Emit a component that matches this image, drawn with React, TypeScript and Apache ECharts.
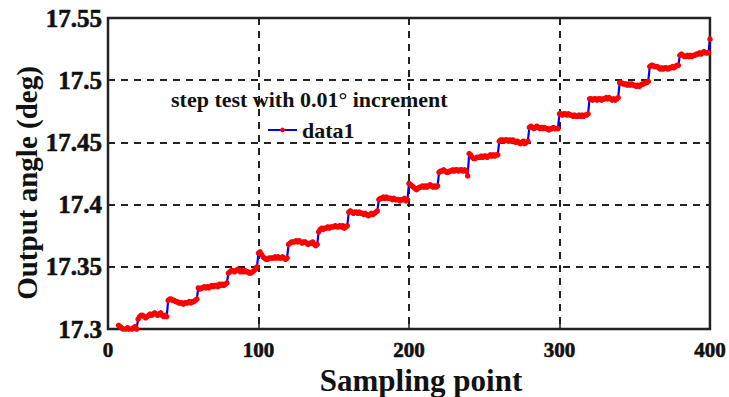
import React, { useEffect, useRef } from "react";
import * as echarts from "echarts";

// Step test: each level holds 20 samples (first level starts at sample 7)
const firstSample = 7;
const stepLength = 20;
const levels: number[][] = [
  [17.303, 17.302, 17.301, 17.3, 17.299, 17.3, 17.301, 17.3, 17.299, 17.3, 17.301, 17.302, 17.3],
  [17.308, 17.31, 17.311, 17.311, 17.31, 17.309, 17.31, 17.311, 17.312, 17.311, 17.312, 17.313, 17.312, 17.311, 17.312, 17.313, 17.311, 17.31, 17.311, 17.31],
  [17.323, 17.324, 17.324, 17.323, 17.323, 17.322, 17.322, 17.321, 17.321, 17.321, 17.32, 17.321, 17.321, 17.321, 17.322, 17.321, 17.322, 17.322, 17.323, 17.324],
  [17.333, 17.332, 17.333, 17.333, 17.334, 17.333, 17.334, 17.333, 17.334, 17.335, 17.334, 17.335, 17.335, 17.334, 17.336, 17.335, 17.336, 17.335, 17.336, 17.337],
  [17.345, 17.346, 17.347, 17.347, 17.346, 17.347, 17.348, 17.347, 17.346, 17.347, 17.346, 17.347, 17.346, 17.346, 17.345, 17.345, 17.346, 17.347, 17.348, 17.35],
  [17.361, 17.362, 17.36, 17.358, 17.357, 17.356, 17.356, 17.357, 17.357, 17.357, 17.357, 17.358, 17.357, 17.358, 17.357, 17.357, 17.358, 17.357, 17.356, 17.357],
  [17.368, 17.369, 17.37, 17.37, 17.37, 17.371, 17.37, 17.371, 17.37, 17.369, 17.37, 17.37, 17.369, 17.368, 17.369, 17.369, 17.37, 17.368, 17.367, 17.368],
  [17.378, 17.38, 17.381, 17.38, 17.381, 17.381, 17.382, 17.381, 17.382, 17.382, 17.382, 17.383, 17.382, 17.382, 17.383, 17.382, 17.383, 17.381, 17.382, 17.383],
  [17.394, 17.395, 17.394, 17.393, 17.394, 17.394, 17.393, 17.394, 17.393, 17.393, 17.392, 17.393, 17.392, 17.391, 17.392, 17.393, 17.392, 17.393, 17.394, 17.395],
  [17.404, 17.405, 17.405, 17.406, 17.405, 17.406, 17.405, 17.405, 17.405, 17.404, 17.405, 17.404, 17.404, 17.404, 17.403, 17.404, 17.404, 17.405, 17.403, 17.404],
  [17.417, 17.416, 17.415, 17.414, 17.413, 17.412, 17.413, 17.414, 17.414, 17.415, 17.414, 17.415, 17.414, 17.415, 17.416, 17.415, 17.414, 17.415, 17.414, 17.415],
  [17.426, 17.427, 17.427, 17.428, 17.427, 17.426, 17.426, 17.427, 17.427, 17.428, 17.427, 17.428, 17.428, 17.427, 17.428, 17.428, 17.427, 17.428, 17.427, 17.423],
  [17.441, 17.44, 17.438, 17.437, 17.437, 17.438, 17.438, 17.438, 17.439, 17.438, 17.439, 17.439, 17.438, 17.439, 17.44, 17.439, 17.44, 17.439, 17.44, 17.44],
  [17.451, 17.452, 17.452, 17.451, 17.452, 17.452, 17.451, 17.452, 17.451, 17.452, 17.451, 17.45, 17.451, 17.45, 17.449, 17.45, 17.451, 17.449, 17.45, 17.451],
  [17.462, 17.463, 17.462, 17.461, 17.462, 17.463, 17.462, 17.461, 17.462, 17.461, 17.462, 17.461, 17.461, 17.46, 17.461, 17.461, 17.462, 17.461, 17.461, 17.461],
  [17.473, 17.473, 17.472, 17.473, 17.473, 17.472, 17.473, 17.472, 17.472, 17.471, 17.472, 17.471, 17.471, 17.472, 17.471, 17.472, 17.471, 17.472, 17.472, 17.473],
  [17.485, 17.485, 17.484, 17.485, 17.485, 17.484, 17.485, 17.485, 17.484, 17.485, 17.485, 17.486, 17.485, 17.486, 17.485, 17.484, 17.485, 17.484, 17.485, 17.486],
  [17.498, 17.498, 17.497, 17.497, 17.497, 17.496, 17.497, 17.496, 17.497, 17.496, 17.496, 17.495, 17.496, 17.495, 17.496, 17.497, 17.497, 17.498, 17.498, 17.499],
  [17.511, 17.512, 17.512, 17.511, 17.511, 17.511, 17.51, 17.509, 17.51, 17.509, 17.51, 17.51, 17.509, 17.51, 17.51, 17.511, 17.51, 17.511, 17.512, 17.512],
  [17.52, 17.521, 17.52, 17.519, 17.519, 17.52, 17.519, 17.52, 17.519, 17.52, 17.52, 17.521, 17.521, 17.522, 17.521, 17.522, 17.523, 17.522, 17.522, 17.522],
  [17.533],
];

const xTicks = [0, 100, 200, 300, 400];
const yTicks = [17.3, 17.35, 17.4, 17.45, 17.5, 17.55];
const seriesName = "data1";
const legendTitle = "step test with 0.01° increment";
const xName = "Sampling point";
const yName = "Output angle (deg)";

const FONT = "Liberation Serif, serif";

function buildData(): [number, number][] {
  const out: [number, number][] = [];
  levels.forEach((lv, k) => {
    const start = k === 0 ? firstSample : k * stepLength;
    lv.forEach((v, i) => out.push([start + i, v]));
  });
  return out;
}

export default function App() {
  const ref = useRef<HTMLDivElement>(null);
  useEffect(() => {
    if (!ref.current) return;
    const chart = echarts.init(ref.current, null, { renderer: "svg" });
    const gridLine = { show: true, lineStyle: { color: "#222", type: [7, 6] as any, width: 2 } };
    chart.setOption({
      animation: false,
      backgroundColor: "#fff",
      textStyle: { fontFamily: FONT },
      grid: {
        left: 108,
        top: 18,
        width: 603,
        height: 311,
        show: true,
        borderColor: "#222",
        borderWidth: 2.5,
        backgroundColor: "transparent",
      },
      xAxis: {
        type: "value",
        min: xTicks[0],
        max: xTicks[xTicks.length - 1],
        interval: 100,
        axisLine: { show: false },
        axisTick: { show: true, inside: true, length: 5, lineStyle: { color: "#222", width: 1.5 } },
        splitLine: gridLine,
        axisLabel: {
          margin: 10,
          color: "#111",
          fontFamily: FONT,
          fontWeight: "bold",
          fontSize: 21,
          textBorderColor: "#111",
          textBorderWidth: 0.6,
        },
      },
      yAxis: {
        type: "value",
        min: yTicks[0],
        max: yTicks[yTicks.length - 1],
        interval: 0.05,
        axisLine: { show: false },
        axisTick: { show: true, inside: true, length: 5, lineStyle: { color: "#222", width: 1.5 } },
        splitLine: gridLine,
        axisLabel: {
          margin: 6,
          color: "#111",
          fontFamily: FONT,
          fontWeight: "bold",
          fontSize: 25,
          textBorderColor: "#111",
          textBorderWidth: 0.6,
          formatter: (v: number) => String(parseFloat(v.toFixed(2))),
        },
      },
      legend: {
        data: [seriesName],
        left: 262,
        top: 114,
        itemWidth: 29,
        itemHeight: 6,
        itemGap: 3,
        textStyle: { fontFamily: FONT, fontWeight: "bold", fontSize: 22, color: "#111" },
      },
      graphic: [
        {
          type: "text",
          left: 171,
          top: 88,
          style: {
            text: legendTitle,
            font: `bold 22px ${FONT}`,
            fill: "#111",
          },
        },
        {
          type: "text",
          x: 421,
          y: 380,
          style: {
            text: xName,
            font: `bold 31px ${FONT}`,
            fill: "#111",
            align: "center",
            verticalAlign: "middle",
          },
        },
        {
          type: "text",
          x: 27,
          y: 183,
          rotation: Math.PI / 2,
          style: {
            text: yName,
            font: `bold 29px ${FONT}`,
            fill: "#111",
            align: "center",
            verticalAlign: "middle",
          },
        },
      ],
      series: [
        {
          name: seriesName,
          type: "line",
          data: buildData(),
          symbol: "circle",
          symbolSize: 5.5,
          showSymbol: true,
          clip: true,
          itemStyle: { color: "#ff0000" },
          lineStyle: { color: "#0000ff", width: 2.2 },
        },
      ],
    });
    return () => chart.dispose();
  }, []);
  return (
    <div
      ref={ref}
      style={{ position: "fixed", left: 0, top: 0, width: 729, height: 397, background: "#fff" }}
    />
  );
}
